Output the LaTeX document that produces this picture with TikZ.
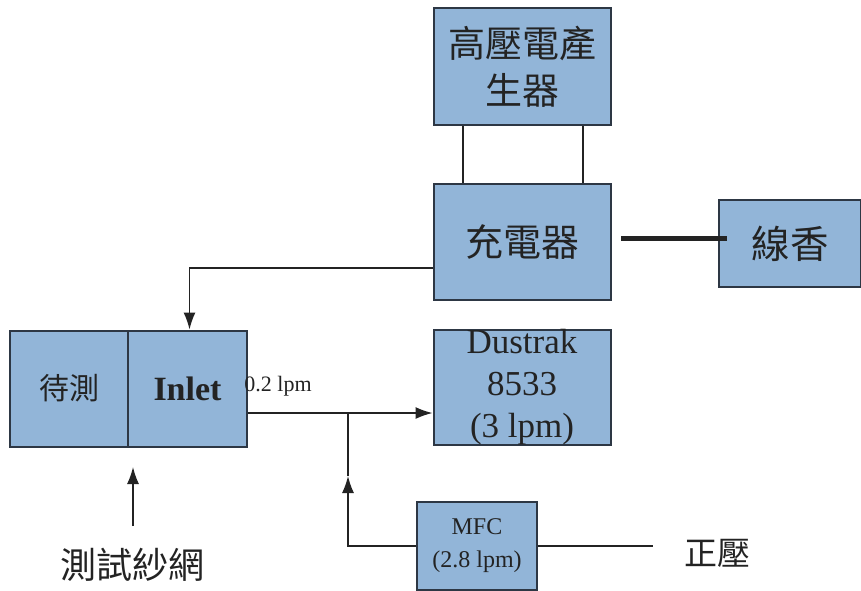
\documentclass[tikz,border=0pt]{standalone}
\usepackage{fontspec}
\setmainfont{Liberation Serif}
\newfontfamily\cjk{Noto Sans CJK TC}
\usetikzlibrary{arrows.meta,calc}
\definecolor{boxfill}{RGB}{146,181,216}
\definecolor{boxline}{RGB}{45,55,68}
\definecolor{ink}{RGB}{35,35,35}
\tikzset{
  blk/.style={draw=boxline, fill=boxfill, line width=2pt, inner sep=0pt, align=center, text=ink},
  conn/.style={draw=ink, line width=1.4pt},
  arr/.style={conn, -{Latex[length=17pt,width=12pt]}},
}
\begin{document}
\begin{tikzpicture}[x=1pt,y=-1pt]
\useasboundingbox (0,0) rectangle (861,590);
% boxes
\node[blk, minimum width=177pt, minimum height=117pt, font=\cjk\fontsize{37}{47}\selectfont] (hv) at (522.5,66.5) {高壓電產\\生器};
\node[blk, minimum width=177pt, minimum height=116pt, font=\cjk\fontsize{38}{44}\selectfont] (chg) at (522.5,242) {充電器};
\node[blk, minimum width=142pt, minimum height=87pt, font=\cjk\fontsize{38.5}{44}\selectfont] (xiang) at (790,243.5) {線香};
\node[blk, minimum width=118pt, minimum height=116pt, font=\cjk\fontsize{30}{34}\selectfont] (dut) at (69,388.5) {待測};
\node[blk, minimum width=119pt, minimum height=116pt, font=\bfseries\fontsize{34}{38}\selectfont] (inlet) at (187.5,388.5) {Inlet};
\node[blk, minimum width=177pt, minimum height=115pt, font=\fontsize{35}{42}\selectfont] (dust) at (522,387.5) {Dustrak\\8533\\(3 lpm)};
\node[blk, minimum width=120pt, minimum height=88pt, font=\fontsize{24}{33}\selectfont] (mfc) at (477,546) {MFC\\(2.8 lpm)};
% labels
\node[font=\fontsize{22}{24}\selectfont, text=ink] (rate) at (278,386) {0.2 lpm};
\node[font=\cjk\fontsize{33}{36}\selectfont, text=ink] (pos) at (717,553) {正壓};
\node[font=\cjk\fontsize{36}{38}\selectfont, text=ink] (net) at (132,565) {測試紗網};
% coordinates
\coordinate (j) at (348,413);
\coordinate (mid) at (348,476);
\coordinate (posend) at (653,546);
\coordinate (nettail) at (133,526);
\coordinate (nethead) at (133,467);
% connectors
\draw[conn] ([xshift=30pt]hv.south west) -- ([xshift=30pt]chg.north west);
\draw[conn] ([xshift=-29pt]hv.south east) -- ([xshift=-29pt]chg.north east);
\draw[draw=ink, line width=5pt] ([xshift=9pt,yshift=4pt]chg.east) -- ([xshift=9pt,yshift=4pt]chg.east -| xiang.west);
\draw[arr] ([yshift=-26pt]chg.west) -| ([xshift=2pt]inlet.north);
\draw[arr] ([yshift=-24.5pt]inlet.east) -- ([yshift=-24.5pt]inlet.east -| dust.west);
\draw[arr] (mfc.west) -| (mid);
\draw[conn] (mid) -- (j);
\draw[conn] (mfc.east) -- (posend);
\draw[arr] (nettail) -- (nethead);
\end{tikzpicture}
\end{document}
